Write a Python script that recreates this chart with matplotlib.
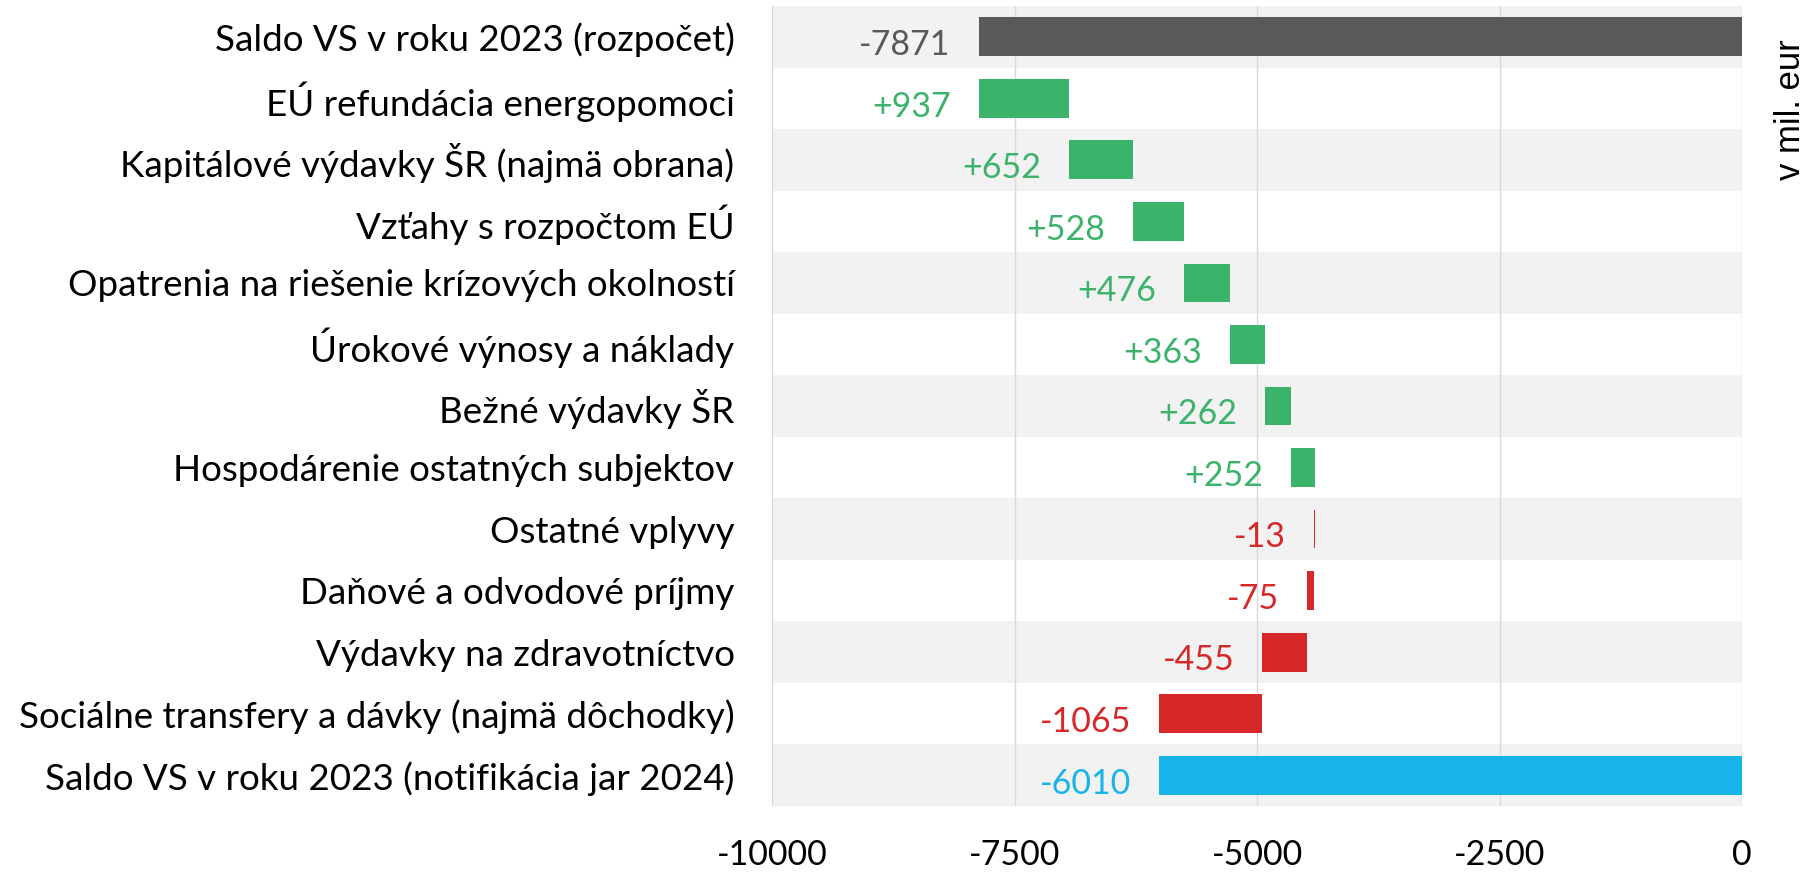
import matplotlib.pyplot as plt

# data (mil. eur)
categories = [
    'Saldo VS v roku 2023 (rozpočet)',
    'EÚ refundácia energopomoci',
    'Kapitálové výdavky ŠR (najmä obrana)',
    'Vzťahy s rozpočtom EÚ',
    'Opatrenia na riešenie krízových okolností',
    'Úrokové výnosy a náklady',
    'Bežné výdavky ŠR',
    'Hospodárenie ostatných subjektov',
    'Ostatné vplyvy',
    'Daňové a odvodové príjmy',
    'Výdavky na zdravotníctvo',
    'Sociálne transfery a dávky (najmä dôchodky)',
    'Saldo VS v roku 2023 (notifikácia jar 2024)',
]
start_value = -7871
changes = [937, 652, 528, 476, 363, 262, 252, -13, -75, -455, -1065]
end_value = -6010
xticks = [-10000, -7500, -5000, -2500, 0]

c_start = '#58595b'
c_start_txt = '#595959'
c_up = '#3bb36b'
c_down = '#d62828'
c_end = '#17b4e9'

plt.rcParams['font.family'] = ['Lato', 'DejaVu Sans']

fig = plt.figure(figsize=(18.09, 8.73), dpi=100)
ax = fig.add_axes([772 / 1809, 1 - 806 / 873, 970 / 1809, 800 / 873])

n = len(categories)
# alternating background bands
for i in range(n):
    if i % 2 == 0:
        ax.axhspan(i - 0.5, i + 0.5, color='#f2f2f2', zorder=0, lw=0)
for t in xticks:
    ax.axvline(t, color='#d9d9d9', lw=1, zorder=1)

h = 0.63
lefts, widths, colors, labels, tcolors = [], [], [], [], []
lefts.append(start_value); widths.append(-start_value)
colors.append(c_start); labels.append(str(start_value)); tcolors.append(c_start_txt)
cum = start_value
for d in changes:
    new = cum + d
    lefts.append(min(cum, new)); widths.append(abs(d))
    colors.append(c_up if d > 0 else c_down)
    labels.append(f'+{d}' if d > 0 else str(d))
    tcolors.append(c_up if d > 0 else c_down)
    cum = new
lefts.append(end_value); widths.append(-end_value)
colors.append(c_end); labels.append(str(end_value)); tcolors.append(c_end)

ys = list(range(n))
ax.barh(ys, widths, left=lefts, height=h, color=colors, zorder=2)

for y, l, lab, tc in zip(ys, lefts, labels, tcolors):
    ax.annotate(lab, (l, y), xytext=(-20, -6), textcoords='offset points',
                ha='right', va='center', color=tc, fontsize=24.5)

ax.set_xlim(-10000, 0)
ax.set_ylim(n - 0.5, -0.5)
ax.set_xticks(xticks)
ax.set_xticklabels([str(t) for t in xticks])
ax.set_yticks(ys)
ax.set_yticklabels(categories)
ax.tick_params(axis='y', length=0, pad=27, labelsize=26.5)
ax.tick_params(axis='x', length=0, pad=24, labelsize=24.5)
for s in ax.spines.values():
    s.set_visible(False)

fig.text(1790 / 1809, 1 - 110 / 873, 'v mil. eur', rotation=90, ha='center', va='center',
         fontsize=25, family='Liberation Sans')

fig.savefig('out.png', dpi=100)
